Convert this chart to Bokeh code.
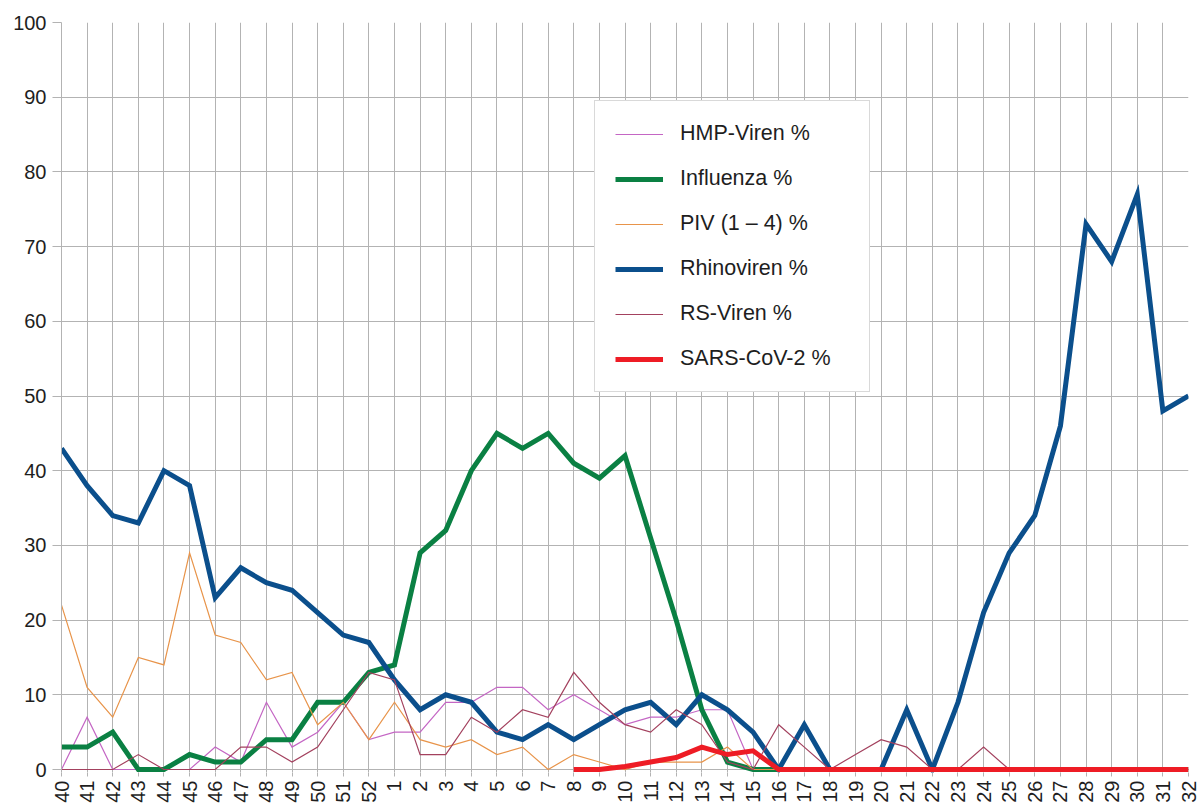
import math
from bokeh.plotting import figure
from bokeh.models import FixedTicker, Legend, LegendItem, Range1d
from bokeh.embed import file_html
from bokeh.resources import INLINE

nan = float("nan")

weeks = ["40", "41", "42", "43", "44", "45", "46", "47", "48", "49", "50", "51", "52",
         "1", "2", "3", "4", "5", "6", "7", "8", "9", "10", "11", "12", "13", "14", "15",
         "16", "17", "18", "19", "20", "21", "22", "23", "24", "25", "26", "27", "28",
         "29", "30", "31", "32"]

hmp = [0, 7, 0, 0, 0, 0, 3, 1, 9, 3, 5, 9, 4,
       5, 5, 9, 9, 11, 11, 8, 10, 8, 6, 7, 7, 8, 8, 0,
       0, 0, 0, 0, 0, 0, 0, 0, 0, 0, 0, 0, 0, 0, 0, 0, 0]

influenza = [3, 3, 5, 0, 0, 2, 1, 1, 4, 4, 9, 9, 13,
             14, 29, 32, 40, 45, 43, 45, 41, 39, 42, 31, 20, 8, 1, 0,
             0, 0, 0, 0, 0, 0, 0, 0, 0, 0, 0, 0, 0, 0, 0, 0, 0]

piv = [22, 11, 7, 15, 14, 29, 18, 17, 12, 13, 6, 9, 4,
       9, 4, 3, 4, 2, 3, 0, 2, 1, 0, 1, 1, 1, 3, 0,
       0, 0, 0, 0, 0, 0, 0, 0, 0, 0, 0, 0, 0, 0, 0, 0, 0]

rhino = [43, 38, 34, 33, 40, 38, 23, 27, 25, 24, 21, 18, 17,
         12, 8, 10, 9, 5, 4, 6, 4, 6, 8, 9, 6, 10, 8, 5,
         0, 6, 0, 0, 0, 8, 0, 9, 21, 29, 34, 46, 73, 68, 77, 48, 50]

rs = [0, 0, 0, 2, 0, 0, 0, 3, 3, 1, 3, 8, 13,
      12, 2, 2, 7, 5, 8, 7, 13, 9, 6, 5, 8, 6, 1, 0,
      6, 3, 0, 2, 4, 3, 0, 0, 3, 0, 0, 0, 0, 0, 0, 0, 0]

sars = [nan, nan, nan, nan, nan, nan, nan, nan, nan, nan, nan, nan, nan,
        nan, nan, nan, nan, nan, nan, nan, 0, 0, 0.4, 1, 1.6, 3, 2, 2.5,
        0, 0, 0, 0, 0, 0, 0, 0, 0, 0, 0, 0, 0, 0, 0, 0, 0]

series = [
    ("HMP-Viren %", hmp, "#c466c4", 1.2),
    ("Influenza %", influenza, "#0a8043", 5),
    ("PIV (1 \u2013 4) %", piv, "#e8944a", 1.2),
    ("Rhinoviren %", rhino, "#0b4f8c", 5),
    ("RS-Viren %", rs, "#a3415e", 1.2),
    ("SARS-CoV-2 %", sars, "#ee1c25", 5),
]

xs = list(range(len(weeks)))
FONT = "Liberation Sans"
GRID = "#b3b3b3"
TXT = "#1e1e1e"

p = figure(width=1202, height=805, output_backend="svg", toolbar_location=None,
           x_range=Range1d(0, len(weeks) - 1), y_range=Range1d(-0.4, 100),
           min_border_left=61, min_border_right=14, min_border_top=22, min_border_bottom=33)
p.outline_line_color = None
p.background_fill_color = "white"
p.border_fill_color = "white"

p.xaxis.ticker = FixedTicker(ticks=xs)
p.xaxis.major_label_overrides = {i: w for i, w in enumerate(weeks)}
p.xaxis.major_label_orientation = math.pi / 2
p.xaxis.axis_line_color = None
p.xaxis.major_tick_out = 4
p.xaxis.major_tick_in = 0
p.xaxis.major_tick_line_color = GRID
p.xaxis.minor_tick_line_color = None
p.xaxis.major_label_standoff = 4

p.yaxis.ticker = FixedTicker(ticks=list(range(0, 101, 10)))
p.yaxis.axis_line_color = GRID
p.yaxis.major_tick_out = 9
p.yaxis.major_tick_in = 0
p.yaxis.major_tick_line_color = GRID
p.yaxis.minor_tick_line_color = None
p.yaxis.major_label_standoff = 6

for ax in (p.xaxis, p.yaxis):
    ax.major_label_text_font = FONT
    ax.major_label_text_font_size = "20px"
    ax.major_label_text_color = TXT

p.xgrid.ticker = FixedTicker(ticks=xs)
p.ygrid.ticker = FixedTicker(ticks=list(range(0, 101, 10)))
p.xgrid.grid_line_color = GRID
p.ygrid.grid_line_color = GRID
p.xgrid.grid_line_width = 1
p.ygrid.grid_line_width = 1

items = []
for label, vals, color, w in series:
    r = p.line(xs, vals, line_color=color, line_width=w, line_join="miter")
    items.append(LegendItem(label=label, renderers=[r]))

legend = Legend(items=items, location=(533, 380),
                padding=20, spacing=20, glyph_height=24, glyph_width=48,
                label_height=24, label_width=169, label_standoff=17,
                label_text_font=FONT, label_text_font_size="21.5px", label_text_color=TXT,
                border_line_color=GRID, border_line_width=1,
                background_fill_color="white", background_fill_alpha=1.0,
                margin=0)
p.add_layout(legend)

open("out.html", "w").write(file_html(p, INLINE))
